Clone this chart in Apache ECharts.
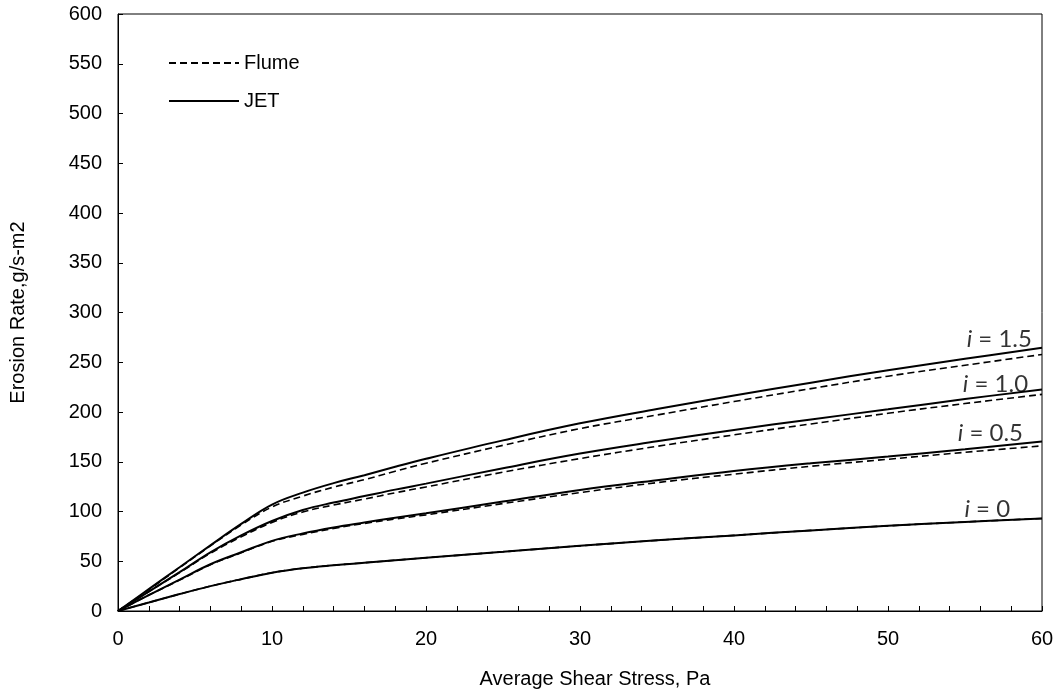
<!DOCTYPE html>
<html>
<head>
<meta charset="utf-8">
<script src="https://cdn.jsdelivr.net/npm/echarts@6/dist/echarts.min.js"></script>
<style>
  html, body { margin: 0; padding: 0; background: #fff; }
  #container { width: 1058px; height: 694px; }
</style>
</head>
<body>
<div id="container"></div>
<script>
var dom = document.getElementById('container');
var myChart = echarts.init(dom);
var option;

// shear stress, Pa
var stress = [0, 2, 4, 6, 8, 10, 12, 14, 16, 18, 20, 25, 30, 35, 40, 45, 50, 55, 60];

// erosion rate, g/s-m2 (JET solid / Flume dashed) per i
var jet0   = [0, 8.5, 17, 25, 32, 38.5, 43, 46, 48.5, 51, 53.5, 59.5, 65.5, 71, 76, 81, 85.6, 89.5, 93];
var flume0 = [0, 8.5, 17, 25, 32, 38.5, 43, 46, 48.5, 51, 53.5, 59.5, 65.5, 71, 76, 81, 85.6, 89.5, 93];
var jet05   = [0, 16, 31.5, 47, 59, 70.5, 78, 84, 89, 93.8, 98.3, 110, 121.7, 131.5, 140.8, 148.5, 155.2, 162.5, 170.3];
var flume05 = [0, 16, 31, 46.5, 58.5, 70, 77, 83, 88, 92.5, 96.6, 108, 119, 129, 137.5, 145.5, 152.5, 159.5, 166];
var jet10   = [0, 19.5, 39, 59, 76, 90.5, 101.5, 109, 115.5, 122, 128, 143.5, 158.2, 170.5, 182, 192.5, 202.7, 213, 222.7];
var flume10 = [0, 19.5, 38.5, 58, 74.5, 89, 99.5, 106.5, 112.5, 118.8, 124.7, 139.5, 153.2, 165.5, 177, 188, 198.7, 208.5, 217.7];
var jet15   = [0, 22, 44, 66, 87.5, 107, 119, 128.5, 136.5, 145, 153, 171.5, 188.6, 203, 216.5, 229.5, 242, 253.5, 264.6];
var flume15 = [0, 21.5, 43.5, 65.5, 86.5, 104.5, 115.5, 124.5, 132, 140.5, 148.5, 166.5, 183.3, 197, 210.5, 223.5, 236, 247, 257.8];

// curve labels
var labelText = ['1.5', '1.0', '0.5', '0'];
var labelX = [59.67, 59.42, 59.09, 58.25];
var labelY = [273, 228, 178.6, 102];

function pairs(ys) {
    return stress.map(function (x, k) { return [x, ys[k]]; });
}

var solid = { color: '#000', width: 2, type: 'solid' };
var dashed = { color: '#000', width: 1.6, type: [7, 4] };

function curve(name, ys, style, z) {
    return {
        name: name,
        type: 'line',
        data: pairs(ys),
        smooth: 0.4,
        symbol: 'none',
        showSymbol: false,
        silent: true,
        z: z,
        itemStyle: { color: '#000' },
        lineStyle: style
    };
}

var txt = { fontFamily: '"Liberation Sans", Arial, sans-serif', fontSize: 20, color: '#000' };

option = {
    backgroundColor: '#fff',
    animation: false,
    grid: {
        left: 117,
        right: 16,
        top: 14,
        bottom: 82,
        show: true,
        borderColor: '#000',
        borderWidth: 1
    },
    legend: {
        data: ['Flume', 'JET'],
        orient: 'vertical',
        left: 163,
        top: 48,
        itemWidth: 70,
        itemHeight: 14,
        itemGap: 18,
        selectedMode: false,
        itemStyle: { opacity: 0 },
        textStyle: txt
    },
    xAxis: {
        type: 'value',
        min: 0,
        max: 60,
        interval: 10,
        name: 'Average Shear Stress, Pa',
        nameLocation: 'middle',
        nameGap: 58,
        nameTextStyle: Object.assign({ padding: [0, 0, 0, 30] }, txt),
        axisLine: { lineStyle: { color: '#000', width: 1 } },
        axisTick: { inside: true, length: 5, lineStyle: { color: '#000' } },
        minorTick: { show: true, splitNumber: 5, length: 5, lineStyle: { color: '#000' } },
        splitLine: { show: false },
        axisLabel: Object.assign({ margin: 18 }, txt)
    },
    yAxis: {
        type: 'value',
        min: 0,
        max: 600,
        interval: 50,
        name: 'Erosion Rate,g/s-m2',
        nameLocation: 'middle',
        nameGap: 90,
        nameTextStyle: txt,
        axisLine: { show: true, lineStyle: { color: '#000', width: 1 } },
        axisTick: { show: true, inside: true, length: 5, lineStyle: { color: '#000' } },
        splitLine: { show: false },
        axisLabel: Object.assign({ margin: 16 }, txt)
    },
    series: [
        curve('Flume', flume0, dashed, 2),
        curve('Flume', flume05, dashed, 2),
        curve('Flume', flume10, dashed, 2),
        curve('Flume', flume15, dashed, 2),
        curve('JET', jet0, solid, 3),
        curve('JET', jet05, solid, 3),
        curve('JET', jet10, solid, 3),
        curve('JET', jet15, solid, 3),
        {
            name: 'labels',
            type: 'scatter',
            symbolSize: 0,
            silent: true,
            data: labelX.map(function (x, k) { return [x, labelY[k], labelText[k]]; }),
            label: {
                show: true,
                position: 'left',
                distance: 5,
                formatter: function (p) { return '{it|i} = ' + p.value[2]; },
                fontFamily: 'Lato, "Open Sans", sans-serif',
                fontSize: 24,
                color: '#000',
                rich: {
                    it: { fontStyle: 'italic', fontFamily: 'Lato, "Open Sans", sans-serif', fontSize: 24, color: '#000' }
                }
            }
        }
    ]
};

if (option && typeof option === 'object') {
    myChart.setOption(option);
}
</script>
</body>
</html>
